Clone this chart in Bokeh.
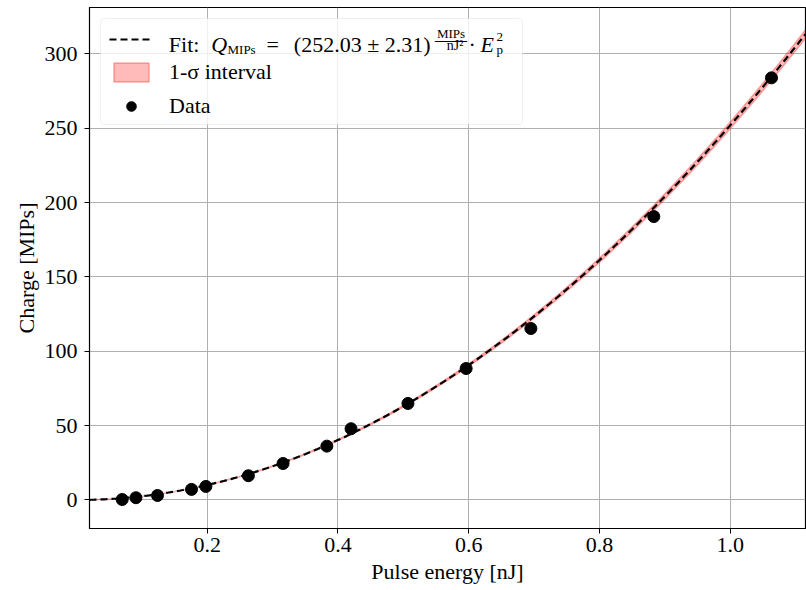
import numpy as np
from bokeh.plotting import figure
from bokeh.models import (Range1d, FixedTicker, PrintfTickFormatter, Legend,
                          LegendItem, Label, BoxAnnotation)
from bokeh.embed import file_html
from bokeh.resources import INLINE

# ---------------- data ----------------
pulse_energy = [0.070, 0.091, 0.124, 0.176, 0.198, 0.263, 0.316, 0.383,
                0.420, 0.507, 0.596, 0.695, 0.883, 1.063]
charge = [0.3, 1.5, 3.0, 7.1, 9.1, 16.3, 24.5, 36.2,
          47.9, 64.9, 88.4, 115.3, 190.6, 283.9]
fit_coef = 252.03
fit_err = 2.31
x_ticks = [0.2, 0.4, 0.6, 0.8, 1.0]
y_ticks = [0, 50, 100, 150, 200, 250, 300]
x_lim = (0.02, 1.115)
y_lim = (-19.2, 331.2)

FONT = "Liberation Serif"
W, H = 806, 590
FL, FR, FT, FB = 89, 1, 7, 62  # frame borders on the page
FW, FH = W - FL - FR, H - FT - FB

p = figure(width=W, height=H, output_backend="svg", toolbar_location=None,
           x_range=Range1d(*x_lim), y_range=Range1d(*y_lim),
           min_border_left=FL, min_border_right=FR, min_border_top=FT,
           min_border_bottom=FB)


def x_of(px):
    return x_lim[0] + (px - FL) / FW * (x_lim[1] - x_lim[0])


def y_of(py):
    return y_lim[1] - (py - FT) / FH * (y_lim[1] - y_lim[0])


# fit curve and 1-sigma band (from the stated fit formula)
xs = np.linspace(x_lim[0], x_lim[1], 300)
fit_y = fit_coef * xs ** 2
lo = (fit_coef - fit_err) * xs ** 2
hi = (fit_coef + fit_err) * xs ** 2
band = p.patch(np.concatenate([xs, xs[::-1]]), np.concatenate([lo, hi[::-1]]),
               fill_color="#ff0000", fill_alpha=0.27,
               line_color="#ff0000", line_alpha=0.3, line_width=1.5)
fit = p.line(xs, fit_y, line_color="black", line_width=2.2, line_dash="7 4")
pts = p.scatter(pulse_energy, charge, size=12, fill_color="black",
                line_color="black")

# axes styling
for ax in (p.xaxis[0], p.yaxis[0]):
    ax.axis_line_color = "black"
    ax.axis_line_width = 1
    ax.major_tick_out = 5
    ax.major_tick_in = 0
    ax.minor_tick_out = 0
    ax.minor_tick_in = 0
    ax.major_label_text_font = FONT
    ax.major_label_text_font_size = "22px"
    ax.major_label_text_color = "black"
    ax.axis_label_text_font = FONT
    ax.axis_label_text_font_size = "22px"
    ax.axis_label_text_font_style = "normal"
    ax.axis_label_text_color = "black"
    ax.major_tick_line_color = "black"

p.xaxis.ticker = FixedTicker(ticks=x_ticks)
p.yaxis.ticker = FixedTicker(ticks=y_ticks)
p.xaxis.formatter = PrintfTickFormatter(format="%.1f")
p.yaxis.formatter = PrintfTickFormatter(format="%d")
p.xaxis.axis_label = "Pulse energy [nJ]"
p.yaxis.axis_label = "Charge [MIPs]"
p.xaxis.major_label_standoff = 4
p.yaxis.major_label_standoff = 7
p.xaxis.axis_label_standoff = 4
p.yaxis.axis_label_standoff = 3

p.xgrid.grid_line_color = "#b0b0b0"
p.ygrid.grid_line_color = "#b0b0b0"
p.xgrid.grid_line_width = 1
p.ygrid.grid_line_width = 1
p.outline_line_color = "black"
p.outline_line_width = 1.2
p.outline_line_alpha = 1
p.background_fill_color = "white"
p.border_fill_color = "white"

# legend frame (semi-transparent white, rounded, light grey border)
p.add_layout(BoxAnnotation(left=x_of(100), right=x_of(522),
                           top=y_of(18), bottom=y_of(124),
                           fill_color="white", fill_alpha=0.8,
                           line_color="#cccccc", line_width=1,
                           border_radius=4))


# the fit label with its math (page-pixel positions of baseline starts)
def put(text, px, py, size, style="normal", align="left"):
    p.add_layout(Label(x=x_lim[0], y=y_lim[1], x_offset=px - FL,
                       y_offset=-(py - FT), text=text, text_font=FONT,
                       text_font_size=f"{size}px", text_font_style=style,
                       text_color="black", text_align=align,
                       text_baseline="alphabetic"))


put("Fit:", 168.3, 44, 22)
put("Q", 210.7, 44, 22, "italic")
put("MIPs", 227, 48.5, 13)
put("=", 266, 44, 22)
put("(252.03 ± 2.31)", 293.3, 44, 22)
put("MIPs", 450.5, 32.7, 13, align="center")
put("——", 450.5, 38.5, 16, align="center")
put("nJ²", 454.5, 45, 14, align="center")
put("·", 471.7, 44, 22, align="center")
put("E", 480, 44, 22, "italic")
put("2", 496, 36.5, 13)
put("p", 496, 48.5, 13)

legend = Legend(items=[LegendItem(label=" ", renderers=[fit]),
                       LegendItem(label="1-σ interval", renderers=[band]),
                       LegendItem(label="Data", renderers=[pts])],
                location="top_left", margin=11, padding=9,
                glyph_width=44, glyph_height=24, label_height=24,
                label_width=345, spacing=8, label_standoff=16,
                label_text_font=FONT, label_text_font_size="22px",
                label_text_color="black",
                border_line_alpha=0, background_fill_alpha=0)
p.add_layout(legend, "center")

open("out.html", "w").write(file_html(p, INLINE))
